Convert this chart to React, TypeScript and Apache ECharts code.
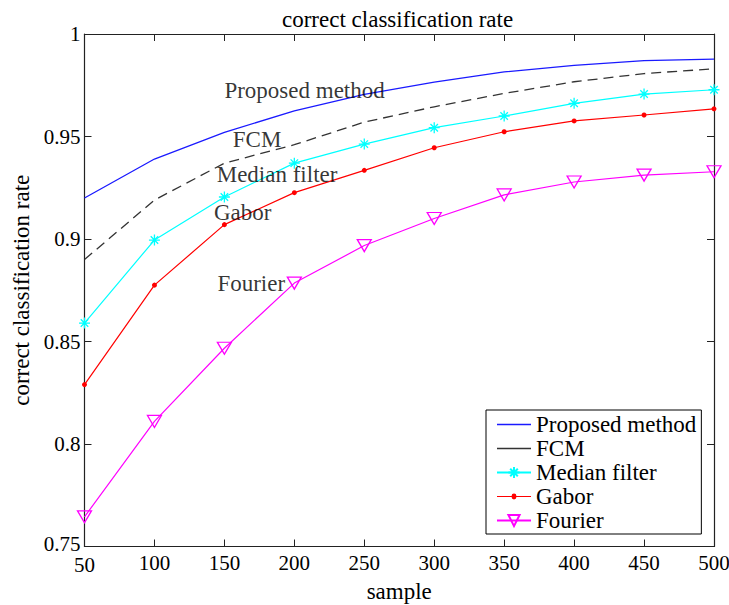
import React, { useEffect, useRef } from "react";
import * as echarts from "echarts";

const samples = [50, 100, 150, 200, 250, 300, 350, 400, 450, 500];
const proposed = [0.92, 0.939, 0.952, 0.9625, 0.9705, 0.9765, 0.9815, 0.9847, 0.987, 0.9877];
const fcm = [0.89, 0.919, 0.937, 0.946, 0.957, 0.9645, 0.971, 0.9767, 0.9807, 0.983];
const median = [0.859, 0.8995, 0.9205, 0.937, 0.9463, 0.9543, 0.96, 0.9662, 0.9707, 0.9728];
const gabor = [0.829, 0.8775, 0.907, 0.9226, 0.9335, 0.9445, 0.9523, 0.9576, 0.9605, 0.9635];
const fourier = [0.7645, 0.811, 0.8467, 0.8785, 0.8968, 0.91, 0.9215, 0.9278, 0.9312, 0.9328];

const seriesNames = ["Proposed method", "FCM", "Median filter", "Gabor", "Fourier"];
const annotationNames = ["Proposed method", "FCM", "Median filter", "Gabor", "Fourier"];
const annotationX = [150, 156, 144.5, 142.5, 145];
const annotationY = [0.9722, 0.9485, 0.9315, 0.913, 0.8785];

const FONT = "Liberation Serif";

const STAR = "path://M5 0 L5 10 M0 5 L10 5 M1.6 1.6 L8.4 8.4 M8.4 1.6 L1.6 8.4";
const TRI = "path://M0 0 L14 0 L7 12 Z";
const LINE_ICON = "path://M0 0 L34 0 L34 1.4 L0 1.4 Z";
const DOT_ICON =
  "path://M0 2 L14.6 2 A2.4 2.4 0 0 1 19.4 2 L34 2 L34 3 L19.4 3 A2.4 2.4 0 0 1 14.6 3 L0 3 Z";

function pairs(vals: number[]) {
  return samples.map((s, i) => [s, vals[i]]);
}

export default function App() {
  const ref = useRef<HTMLDivElement>(null);
  useEffect(() => {
    if (!ref.current) return;
    const chart = echarts.init(ref.current, undefined, { renderer: "svg" });
    const axisLine = { show: true, lineStyle: { color: "#222", width: 1.2 } };
    const tick = { show: true, inside: true, length: 7, lineStyle: { color: "#222" } };
    chart.setOption({
      animation: false,
      backgroundColor: "#fff",
      title: {
        text: "correct classification rate",
        left: 277,
        top: 3,
        textStyle: { fontFamily: FONT, fontSize: 23, fontWeight: "normal", color: "#000" },
      },
      grid: {
        left: 84.5,
        top: 34,
        right: 15,
        bottom: 58.5,
        containLabel: false,
        outerBoundsMode: "none",
      },
      legend: {
        data: [
          { name: seriesNames[0], icon: LINE_ICON },
          { name: seriesNames[1], icon: LINE_ICON },
          { name: seriesNames[2] },
          { name: seriesNames[3], icon: DOT_ICON },
          { name: seriesNames[4] },
        ],
        orient: "vertical",
        left: 486,
        top: 410,
        padding: [3, 5, 2, 10],
        itemGap: 1,
        itemWidth: 34,
        itemHeight: 14,
        borderColor: "#000",
        borderWidth: 1,
        backgroundColor: "#fff",
        textStyle: { fontFamily: FONT, fontSize: 23, color: "#000" },
      },
      xAxis: [
        {
          type: "value",
          min: 50,
          max: 500,
          interval: 50,
          name: "sample",
          nameLocation: "middle",
          nameGap: 32,
          nameTextStyle: { fontFamily: FONT, fontSize: 23, color: "#000" },
          axisLine,
          axisTick: tick,
          axisLabel: {
            fontFamily: FONT,
            fontSize: 21,
            lineHeight: 18,
            color: "#000",
            margin: 7,
            formatter: (v: number) => (v === 50 ? "{lo|" + v + "}" : String(v)),
            rich: { lo: { fontFamily: FONT, fontSize: 21, lineHeight: 18, padding: [5, 0, 0, 0] } },
          },
          splitLine: { show: false },
        },
        {
          type: "value",
          position: "top",
          min: 50,
          max: 500,
          interval: 50,
          axisLine,
          axisTick: tick,
          axisLabel: { show: false },
          splitLine: { show: false },
        },
      ],
      yAxis: [
        {
          type: "value",
          min: 0.75,
          max: 1,
          interval: 0.05,
          name: "correct classification rate",
          nameLocation: "middle",
          nameGap: 52,
          nameTextStyle: { fontFamily: FONT, fontSize: 23, color: "#000" },
          axisLine,
          axisTick: tick,
          axisLabel: {
            fontFamily: FONT,
            fontSize: 21,
            lineHeight: 14,
            color: "#000",
            margin: 4,
            formatter: (v: number) => (Math.abs(v - 0.75) < 1e-9 ? "{up|0.75}" : String(+v.toFixed(2))),
            rich: { up: { fontFamily: FONT, fontSize: 21, lineHeight: 14, padding: [0, 0, 6, 0] } },
          },
          splitLine: { show: false },
        },
        {
          type: "value",
          position: "right",
          min: 0.75,
          max: 1,
          interval: 0.05,
          axisLine,
          axisTick: tick,
          axisLabel: { show: false },
          splitLine: { show: false },
        },
      ],
      series: [
        {
          name: seriesNames[0],
          type: "line",
          data: pairs(proposed),
          symbol: "none",
          color: "#1a1aff",
          itemStyle: { color: "#1a1aff" },
          lineStyle: { color: "#1a1aff", width: 1.3 },
        },
        {
          name: seriesNames[1],
          type: "line",
          data: pairs(fcm),
          symbol: "none",
          color: "#333",
          itemStyle: { color: "#333" },
          lineStyle: { color: "#333", width: 1.3, type: [10, 6] },
        },
        {
          name: seriesNames[2],
          type: "line",
          data: pairs(median),
          symbol: STAR,
          symbolSize: 11,
          color: "#00ffff",
          itemStyle: { color: "#00ffff", borderColor: "#00ffff", borderWidth: 1.3 },
          lineStyle: { color: "#00ffff", width: 1.2 },
        },
        {
          name: seriesNames[3],
          type: "line",
          data: pairs(gabor),
          symbol: "circle",
          symbolSize: 5,
          color: "#ff0000",
          itemStyle: { color: "#ff0000" },
          lineStyle: { color: "#ff0000", width: 1.2 },
        },
        {
          name: seriesNames[4],
          type: "line",
          data: pairs(fourier),
          symbol: TRI,
          symbolSize: [14, 12],
          symbolKeepAspect: false,
          color: "#ff00ff",
          itemStyle: { color: "rgba(255,255,255,0)", borderColor: "#ff00ff", borderWidth: 1.3 },
          lineStyle: { color: "#ff00ff", width: 1.2 },
        },
        {
          name: "annotations",
          type: "scatter",
          silent: true,
          symbolSize: 0,
          data: annotationNames.map((n, i) => ({ name: n, value: [annotationX[i], annotationY[i]] })),
          label: {
            show: true,
            position: "right",
            distance: 0,
            formatter: (p: any) => p.name,
            fontFamily: FONT,
            fontSize: 23,
            color: "#000",
          },
          z: 10,
        },
      ],
    });
    return () => chart.dispose();
  }, []);
  return (
    <div
      ref={ref}
      style={{ position: "fixed", left: 0, top: 0, width: 729, height: 605, background: "#fff" }}
    />
  );
}
